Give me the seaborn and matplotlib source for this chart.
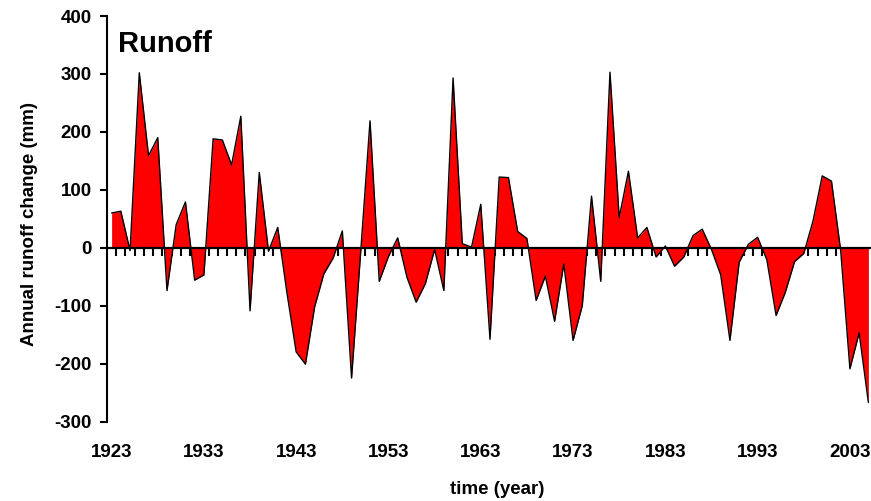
import numpy as np
import pandas as pd
import matplotlib
matplotlib.use("Agg")
import matplotlib.pyplot as plt
import seaborn as sns

# Annual runoff change (mm), one value per year starting 1923
years = list(range(1923, 2006))
runoff = [
    60, 63, -5, 302, 159, 190, -74, 40, 79, -56,
    -47, 188, 186, 143, 227, -109, 130, -6, 35, -78,
    -180, -201, -102, -45, -18, 29, -225, -5, 219, -58,
    -15, 17, -51, -94, -62, -3, -74, 293, 7, 1,
    75, -158, 122, 121, 28, 16, -91, -49, -127, -28,
    -160, -100, 89, -58, 303, 52, 132, 17, 35, -16,
    3, -32, -16, 21, 32, -3, -47, -160, -25, 6,
    18, -21, -117, -77, -24, -10, 46, 124, 115, -5,
    -209, -147, -267,
]
label_years = [1923, 1933, 1943, 1953, 1963, 1973, 1983, 1993, 2003]
y_ticks = [-300, -200, -100, 0, 100, 200, 300, 400]

df = pd.DataFrame({"year": years, "runoff": runoff})

sns.set_theme(style="white")
plt.rcParams["font.family"] = ["Liberation Sans", "DejaVu Sans"]
plt.rcParams["font.weight"] = "bold"
plt.rcParams["axes.unicode_minus"] = False
for key in ("text.color", "axes.labelcolor", "xtick.color", "ytick.color"):
    plt.rcParams[key] = "black"

W, H = 871, 501
fig = plt.figure(figsize=(W / 100, H / 100), dpi=100)
left, right, top, bottom = 107, 873, 16, 421.5
ax = fig.add_axes([left / W, 1 - bottom / H, (right - left) / W, (bottom - top) / H])

# filled anomaly area with a thin black outline
ax.fill_between(df["year"], df["runoff"], 0, color="#ff0000", linewidth=0, zorder=2)
sns.lineplot(data=df, x="year", y="runoff", color="black", linewidth=1.0, ax=ax, zorder=3)

ax.set_xlim(years[0] - 0.5, years[-1] + 0.5)
ax.set_ylim(-300, 400)

# spines: left axis and the zero line carrying the yearly ticks
for s in ("top", "right"):
    ax.spines[s].set_visible(False)
ax.spines["left"].set_linewidth(1.5)
ax.spines["left"].set_color("black")
ax.spines["bottom"].set_position(("data", 0))
ax.spines["bottom"].set_linewidth(1.6)
ax.spines["bottom"].set_color("black")
ax.spines["bottom"].set_zorder(4)

boundaries = [y + 0.5 for y in years[:-1]]
ax.set_xticks(boundaries)
ax.tick_params(axis="x", direction="out", length=5.5, width=1.5, color="black",
               labelbottom=False, bottom=True)
ax.set_yticks(y_ticks)
ax.tick_params(axis="y", direction="out", length=5, width=1.5, color="black",
               labelsize=13.5, labelcolor="black", pad=6, left=True)
for lab in ax.get_yticklabels():
    lab.set_fontweight("bold")
ax.set_xlabel("")
ax.set_ylabel("")

# year labels along the bottom of the plot
sec = ax.secondary_xaxis("bottom")
sec.spines["bottom"].set_visible(False)
sec.set_xticks(label_years)
sec.set_xticklabels([str(y) for y in label_years], fontsize=13.5, fontweight="bold",
                    color="black")
sec.tick_params(axis="x", length=0, pad=16)

ax.text(0.0145, 0.912, "Runoff", transform=ax.transAxes, fontsize=21,
        fontweight="bold", color="black", ha="left", va="baseline")
fig.text(30 / W, 1 - 224 / H, "Annual runoff change (mm)", rotation=90,
         fontsize=13.5, fontweight="bold", color="black", ha="center", va="center")
fig.text(497 / W, 1 - 489 / H, "time (year)", fontsize=13.5, fontweight="bold",
         color="black", ha="center", va="center")

fig.savefig("out.png", dpi=100)
